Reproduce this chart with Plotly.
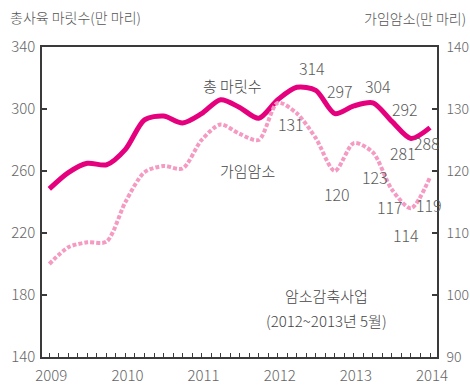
import plotly.graph_objects as go

# Quarterly observations, 2009 Q1 through 2014 Q1 (decimal years)
quarters = [2009.0 + 0.25 * i for i in range(21)]

# Total cattle head count (10k head), left axis
total_head = [248.5, 259, 265, 264, 274, 293, 295.5, 291, 297, 306, 301,
              294, 306, 314, 312, 297, 302, 304, 292, 281, 288]

# Fertile cows (10k head), right axis
fertile_cows = [105, 107.7, 108.5, 108.6, 115, 119.8, 120.8, 120.4, 125,
                127.5, 126, 125, 131, 129.3, 125.3, 120, 124.5, 123, 117,
                114, 119]

year_ticks = [2009, 2010, 2011, 2012, 2013, 2014]
left_ticks = [140, 180, 220, 260, 300, 340]
right_ticks = [90, 100, 110, 120, 130, 140]

# Labelled points: (index, x shift px, y shift px)
total_labels = [(13, 15, 19), (15, 5, 23), (17, 5, 17), (18, 13, 12),
                (19, -8, -15), (20, -3, -15)]
cow_labels = [(12, 13, -21), (15, 2, -23), (17, 2, -25), (18, -2, -17),
              (19, -5, -27), (20, -1, -28)]

MAGENTA = "#e5007e"
PINK = "#f59ac2"
GRAY = "#5a5a5a"
AXIS = "#3a3a3a"
FONT = "Noto Sans CJK KR, sans-serif"

fig = go.Figure()
fig.add_trace(go.Scatter(
    x=quarters, y=total_head, mode="lines", yaxis="y",
    line=dict(color=MAGENTA, width=5, shape="spline", smoothing=0.8),
    hoverinfo="skip", showlegend=False))
fig.add_trace(go.Scatter(
    x=quarters, y=fertile_cows, mode="lines", yaxis="y2",
    line=dict(color=PINK, width=4, shape="spline", smoothing=0.8,
              dash="4px,2px"),
    hoverinfo="skip", showlegend=False))

num_font = dict(family=FONT, size=16, color=GRAY, weight=300)
kr_font = dict(family=FONT, size=15, color="#444", weight=300)

annotations = []
for i, dx, dy in total_labels:
    annotations.append(dict(x=quarters[i], y=total_head[i], xref="x", yref="y",
                            text=f"{total_head[i]:g}", showarrow=False,
                            xshift=dx, yshift=dy, font=num_font))
for i, dx, dy in cow_labels:
    annotations.append(dict(x=quarters[i], y=fertile_cows[i], xref="x", yref="y2",
                            text=f"{fertile_cows[i]:g}", showarrow=False,
                            xshift=dx, yshift=dy, font=num_font))

# Series names and program note
annotations += [
    dict(x=2011.41, y=315.3, xref="x", yref="y", text="총 마릿수",
         showarrow=False, font=kr_font),
    dict(x=2011.60, y=260.5, xref="x", yref="y", text="가임암소",
         showarrow=False, font=kr_font),
    dict(x=2012.64, y=179.8, xref="x", yref="y", text="암소감축사업",
         showarrow=False, font=kr_font),
    dict(x=2012.64, y=163.7, xref="x", yref="y", text="(2012~2013년 5월)",
         showarrow=False, font=kr_font),
    # Axis unit titles
    dict(x=-0.086, y=1.097, xref="paper", yref="paper", xanchor="left",
         yanchor="middle", text="총사육 마릿수(만 마리)", showarrow=False,
         font=dict(family=FONT, size=14, color="#555", weight=300)),
    dict(x=1.078, y=1.094, xref="paper", yref="paper", xanchor="right",
         yanchor="middle", text="가임암소(만 마리)", showarrow=False,
         font=dict(family=FONT, size=14, color="#555", weight=300)),
]

tick_font = dict(family=FONT, size=15, color="#666", weight=300)

fig.update_layout(
    width=470, height=386,
    margin=dict(l=42, r=33, t=47, b=29, pad=0),
    paper_bgcolor="white", plot_bgcolor="white",
    annotations=annotations,
    xaxis=dict(range=[2008.904, 2014.092], tickvals=year_ticks,
               ticktext=[str(y) for y in year_ticks], automargin=False,
               ticks="inside", ticklen=4, tickwidth=1.2, tickcolor=AXIS,
               minor=dict(dtick=0.125, tick0=2009, ticks="inside", ticklen=4,
                          tickwidth=1.2, tickcolor=AXIS),
               showgrid=False, zeroline=False,
               showline=True, linecolor=AXIS, linewidth=1.5, mirror=True,
               tickfont=tick_font, ticklabelshift=2, ticklabelstandoff=4),
    yaxis=dict(range=[140, 340], tickvals=left_ticks, automargin=False,
               ticks="inside", ticklen=5, tickwidth=1.5, tickcolor=AXIS,
               showgrid=False, zeroline=False,
               showline=True, linecolor=AXIS, linewidth=1.5,
               tickfont=tick_font, ticklabelstandoff=2),
    yaxis2=dict(range=[90, 140], tickvals=right_ticks, overlaying="y",
                side="right", automargin=False, ticks="inside", ticklen=5,
                tickwidth=1.5, tickcolor=AXIS, showgrid=False, zeroline=False,
                showline=True, linecolor=AXIS, linewidth=1.5,
                tickfont=dict(family=FONT, size=14, color="#666", weight=300),
                ticklabelstandoff=5),
)

fig.write_html("out.html")
